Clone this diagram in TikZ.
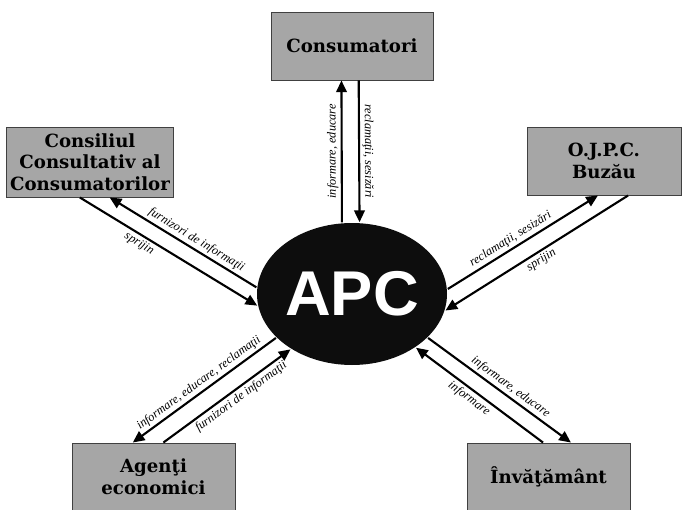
\documentclass[tikz,border=0pt]{standalone}
\usepackage{fontspec}
\setmainfont{Liberation Serif}
\setsansfont{Liberation Sans}
\newfontfamily\cutiefont{DejaVu Serif}
\usetikzlibrary{arrows.meta,shapes.geometric}
\definecolor{gricutie}{RGB}{166,166,166}

\begin{document}
\begin{tikzpicture}[x=0.3mm,y=-0.3mm,>={Triangle[length=10pt,width=9pt]},line width=1.8pt,
	cutie/.style={draw=black!75,line width=0.8pt,fill=gricutie,align=center,
		font=\cutiefont\bfseries\fontsize{15.5}{18.5}\selectfont,minimum height=20.4mm},
	eticheta/.style={font=\itshape\fontsize{10.5}{12}\selectfont,inner sep=2pt,sloped}]

\useasboundingbox (0,0) rectangle (684,510);

%\draw[help lines] (0,0) grid[step=50] (684,510);

\node[ellipse,fill=black!95,inner sep=0pt,minimum width=57mm,minimum height=42.6mm,
	text=white,font=\sffamily\bfseries\fontsize{54}{60}\selectfont] (apc) at (352,294) {APC};

\node[cutie,minimum width=48.6mm] (cons) at (352,46) {Consumatori};
\node[cutie,minimum width=49.2mm,minimum height=21mm] (ccc) at (90,162) {Consiliul\\Consultativ al\\Consumatorilor};
\node[cutie,minimum width=46.2mm] (ojpc) at (604,161) {O.J.P.C.\\Buzău};
\node[cutie,minimum width=48.9mm] (agenti) at (153.5,477) {Agenţi\\economici};
\node[cutie,minimum width=48.9mm] (invat) at (548.5,477) {Învăţământ};

% Consumatori
\draw[->] (apc.98) -- (cons.253.6) node[eticheta,midway,above,allow upside down] {informare, educare};
\draw[->] (cons.281.6) -- (apc.84.4) node[eticheta,midway,above,allow upside down] {reclamaţii, sesizări};

% Consiliul
\draw[->] (apc.176.4) -- (ccc.299.7) node[eticheta,pos=0.44,above] {furnizori de informaţii};
\draw[->] (ccc.254.1) -- (apc.187.8) node[eticheta,pos=0.36,below] {sprijin};

% O.J.P.C.
\draw[->] (apc.3.7) -- (ojpc.260) node[eticheta,pos=0.45,above] {reclamaţii, sesizări};
\draw[->] (ojpc.305.2) -- (apc.350) node[eticheta,midway,below] {sprijin};

% agenti
\draw[->] (apc.210.9) -- (agenti.121.1) node[eticheta,midway,above] {informare, educare, reclamaţii};
\draw[->] (agenti.74.4) -- (apc.222.1) node[eticheta,pos=0.57,below] {furnizori de informaţii};

% invatamant
\draw[->] (apc.330.6) -- (invat.57.7) node[eticheta,pos=0.54,above] {informare, educare};
\draw[->] (invat.99.2) -- (apc.320.7) node[eticheta,pos=0.54,below] {informare};

\end{tikzpicture}
\end{document}
